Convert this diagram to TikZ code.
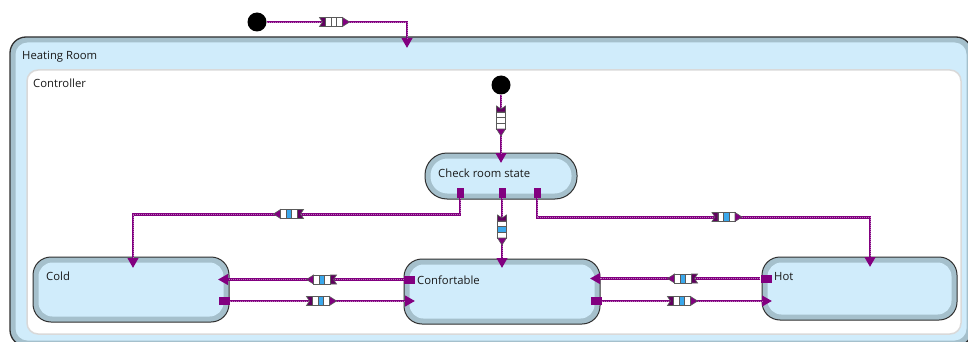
\documentclass[tikz,border=0pt]{standalone}
\usepackage{fontspec}
\setmainfont{Open Sans}
\usetikzlibrary{arrows.meta,calc}

\definecolor{wirecol}{HTML}{820080}
\definecolor{bandcol}{HTML}{A5C0CC}
\definecolor{palecol}{HTML}{D0ECFB}
\definecolor{rimcol}{HTML}{303030}
\definecolor{cellcol}{HTML}{3AA8EC}
\definecolor{framecol}{HTML}{D9D9D9}
\definecolor{tokenrim}{HTML}{5A5A5A}

\tikzset{
  lbl/.style={font=\fontsize{11.3}{13}\selectfont, text=black!90, anchor=west, inner sep=0pt},
  panel/.style 2 args={draw=rimcol, line width=1pt, fill=bandcol, rounded corners=#1, inner sep=0pt,
    path picture={\fill[palecol, rounded corners=#2]
      ([shift={(5.5pt,-5.5pt)}]path picture bounding box.north west) rectangle
      ([shift={(-5.5pt,5.5pt)}]path picture bounding box.south east);}},
  innerpanel/.style={draw=framecol, line width=1.5pt, fill=white, rounded corners=11pt, inner sep=0pt},
  initdot/.style={circle, fill=black, minimum size=19pt, inner sep=0pt},
  portv/.style={fill=wirecol, inner sep=0pt, minimum width=7pt, minimum height=10pt},
  porth/.style={fill=wirecol, inner sep=0pt, minimum width=11pt, minimum height=8pt},
  wire/.style={draw=wirecol, line width=2.6pt, -{Triangle[width=10.5pt,length=10pt]},
    postaction={draw=white, draw opacity=.45, line width=.9pt, dash pattern=on 1pt off 1pt,
      arrows=-, shorten >=10pt}},
  token/.pic={
    \fill[white] (-9,-4.5) rectangle (8,4.5);
    \fill[#1] (-3.33,-4.5) rectangle (2.33,4.5);
    \draw[tokenrim, line width=.7pt] (-9,-4.5) rectangle (8,4.5)
      (-3.33,-4.5) -- (-3.33,4.5) (2.33,-4.5) -- (2.33,4.5);
    \filldraw[fill=wirecol, draw=tokenrim, line width=.6pt] (8,-4.5) -- (15,0) -- (8,4.5) -- cycle;
    \filldraw[fill=wirecol!75!black, draw=tokenrim, line width=.6pt]
      (-15,-4.5) -- (-9,-4.5) -- (-9,4.5) -- (-15,4.5) -- (-12,0) -- cycle;
  }
}

\begin{document}
\begin{tikzpicture}[x=1pt,y=-1pt]
\useasboundingbox (0,0) rectangle (968,342);
\clip (0,0) rectangle (968,342);

% containers
\node[panel={16pt}{12pt}, line width=1.3pt, minimum width=962pt, minimum height=309pt] (room) at (491,191.5) {};
\node[innerpanel, minimum width=934pt, minimum height=264pt] (ctrl) at (494,202) {};
\node[lbl] (roomlbl) at (22,57) {Heating Room};
\node[lbl] (ctrllbl) at (33,83) {Controller};

% states
\node[panel={22pt}{17pt}, minimum width=152pt, minimum height=46pt] (check) at (501,176) {};
\node[panel={18pt}{14pt}, minimum width=196pt, minimum height=65pt] (cold) at (131,289.5) {};
\node[panel={18pt}{14pt}, minimum width=196pt, minimum height=65pt] (conf) at (502,291.5) {};
\node[panel={18pt}{14pt}, minimum width=195pt, minimum height=63pt] (hot) at (859.5,288.5) {};
\node[lbl] (checklbl) at (438,173.5) {Check room state};
\node[lbl] (coldlbl) at (46,276) {Cold};
\node[lbl] (conflbl) at (417,280) {Confortable};
\node[lbl] (hotlbl) at (774,277) {Hot};

% initial states
\node[initdot] (start0) at (257,22) {};
\node[initdot] (start1) at (501,85) {};

% exit ports
\node[portv] (pl) at (460,193) {};
\node[portv] (pm) at (502,193) {};
\node[portv] (pr) at (537,193) {};
\node[porth] (pcl) at (409.5,279.5) {};
\node[porth] (pcr) at (596,301) {};
\node[porth] (pco) at (224,301) {};
\node[porth] (pho) at (766,278.5) {};

% entry points
\coordinate (roomin) at (407,48);
\coordinate (checkin) at (501,163);
\coordinate (coldtop) at (133,268);
\coordinate (conftop) at (502,268);
\coordinate (hottop) at (870,267);
\coordinate (coldright) at (218,279.5);
\coordinate (confleft) at (415,301);
\coordinate (confright) at (590,278.5);
\coordinate (hotleft) at (772,301);

% transitions
\draw[wire] (start0) -| (roomin);
\draw[wire] (start1) -- (checkin);
\draw[wire] (pl.south) -- ++(0,16) -| (coldtop);
\draw[wire] (pm.south) -- (conftop);
\draw[wire] (pr.south) -- ++(0,19) -| (hottop);
\draw[wire] (pcl) -- (coldright);
\draw[wire] (pco) -- (confleft);
\draw[wire] (pho) -- (confright);
\draw[wire] (pcr) -- (hotleft);

% event queues
\pic at (334.5,22) {token=white};
\pic[rotate=-90] at (501,121) {token=white};
\pic[rotate=-90] at (502,230) {token=cellcol};
\pic[rotate=180] at (288.5,214) {token=cellcol};
\pic at (727,217) {token=cellcol};
\pic[rotate=180] at (321.5,279.5) {token=cellcol};
\pic at (321.5,301) {token=cellcol};
\pic[rotate=180] at (682.5,278.5) {token=cellcol};
\pic at (682.5,301) {token=cellcol};
\end{tikzpicture}
\end{document}
